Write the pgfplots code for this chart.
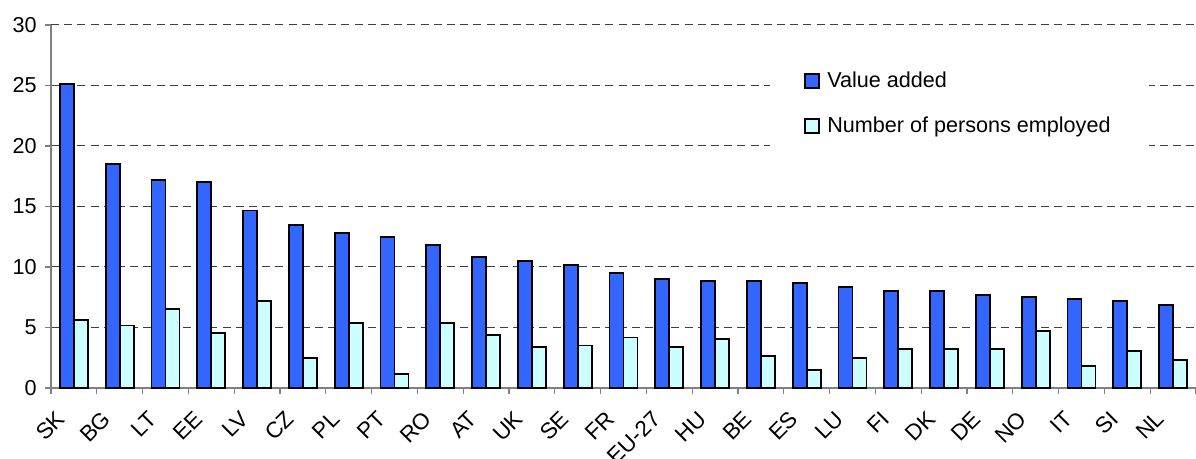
\documentclass[border=0pt]{standalone}
\usepackage{pgfplots}
\pgfplotsset{compat=1.18}
\usepackage{fontspec}
\setmainfont{Liberation Sans}
\definecolor{vablue}{HTML}{3366FF}
\definecolor{pecyan}{HTML}{CCFFFF}
\definecolor{axgray}{HTML}{808080}
\definecolor{gridgray}{HTML}{404040}

\pgfplotstableread{
idx va pe
0  25.13 5.64
1  18.50 5.17
2  17.17 6.50
3  17.01 4.54
4  14.67 7.18
5  13.49 2.50
6  12.83 5.34
7  12.50 1.16
8  11.84 5.34
9  10.85 4.35
10 10.51 3.36
11 10.18 3.52
12  9.50 4.18
13  9.03 3.36
14  8.84 4.02
15  8.84 2.67
16  8.67 1.51
17  8.34 2.50
18  8.01 3.19
19  8.01 3.19
20  7.68 3.19
21  7.51 4.68
22  7.35 1.84
23  7.18 3.03
24  6.85 2.34
}\datatable

\begin{document}
\begin{tikzpicture}[font=\fontsize{10.8}{13}\selectfont]
\begin{axis}[
  scale only axis,
  width=572.5pt, height=181.5pt,
  xmin=-0.5, xmax=24.5, ymin=0, ymax=30,
  axis x line*=bottom, axis y line*=left,
  axis line style={draw=axgray, line width=0.6pt, -},
  ytick={0,5,...,30},
  xtick={0,...,24},
  xticklabels={SK,BG,LT,EE,LV,CZ,PL,PT,RO,AT,UK,SE,FR,EU-27,HU,BE,ES,LU,FI,DK,DE,NO,IT,SI,NL},
  minor xtick={-0.5,0.5,...,24.5},
  tick align=outside,
  major tick length=3pt,
  minor tick length=3pt,
  x tick style={draw=none},
  minor x tick style={draw=axgray, line width=0.6pt},
  y tick style={draw=axgray, line width=0.6pt},
  ymajorgrids,
  major grid style={draw=gridgray, line width=0.5pt, dash pattern=on 4pt off 2.6pt},
  /pgf/number format/assume math mode=true,
  yticklabel style={inner sep=0pt, anchor=east, xshift=-4pt},
  xticklabel style={inner sep=0pt, xshift=-6.3pt, yshift=-10.5pt, rotate=45, anchor=east, font=\fontsize{11.2}{13}\selectfont},
  legend style={draw=none, fill=white, at={(rel axis cs:0.628,0.938)}, anchor=north west,
    inner xsep=17pt, inner ysep=10pt, row sep=9pt, font=\fontsize{10.8}{13}\selectfont},
  legend cell align=left,
  legend image code/.code={\draw[#1, line width=0.8pt] (0pt,-3.5pt) rectangle (7pt,3.5pt); \path[draw=none, fill=none] (0pt,0pt) -- (9pt,0pt);},
  clip=false,
]
\addplot[ybar, bar width=7pt, bar shift=-3.5pt, fill=vablue, draw=black, line width=0.9pt] table[x=idx, y=va] {\datatable};
\addplot[ybar, bar width=7pt, bar shift=3.5pt, fill=pecyan, draw=black, line width=0.9pt] table[x=idx, y=pe] {\datatable};
\legend{Value added, Number of persons employed}
\coordinate (O) at (rel axis cs:0,0);
\end{axis}
\pgfresetboundingbox
\path[use as bounding box] ([xshift=-25.5pt,yshift=-35.5pt]O) rectangle ([xshift=572.5pt,yshift=194pt]O);
\end{tikzpicture}
\end{document}
